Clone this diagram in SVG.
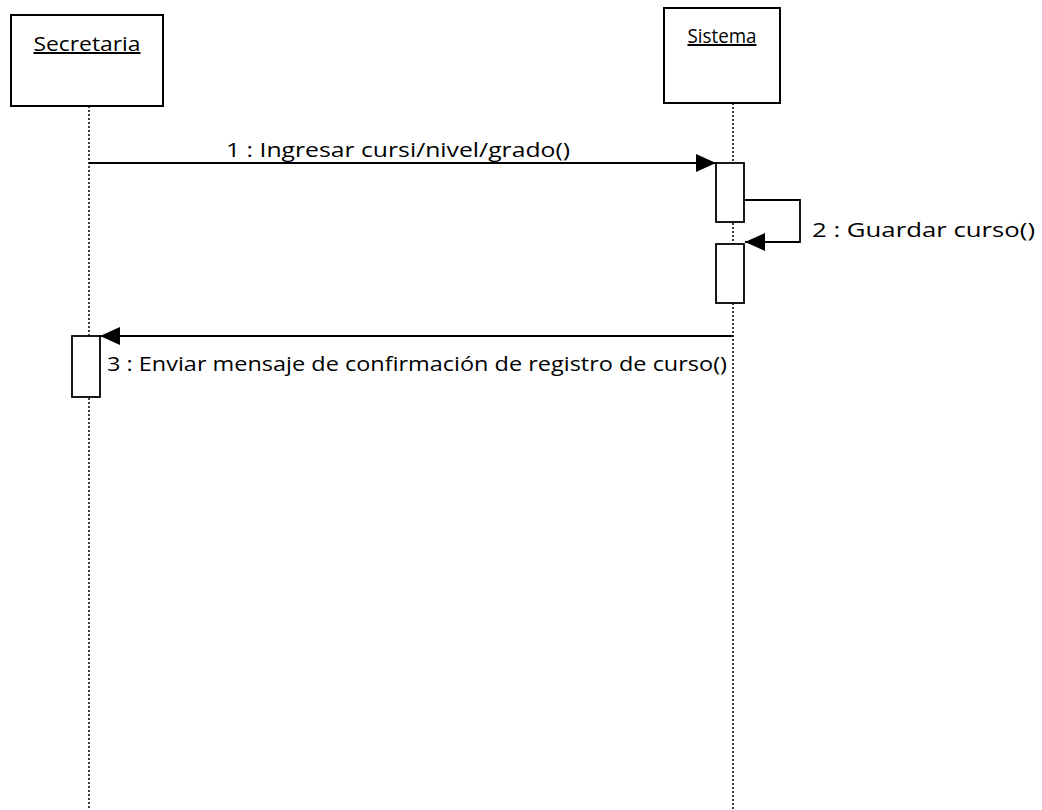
<svg xmlns="http://www.w3.org/2000/svg" width="1042" height="810" viewBox="0 0 1042 810">
<style>
.box{fill:#fff;stroke:#000;stroke-width:2}
.life{stroke:#000;stroke-width:1.5;stroke-dasharray:2 2;fill:none}
.act{fill:#fff;stroke:#000;stroke-width:1.8}
.msg{stroke:#000;stroke-width:1.8;fill:none}
text{font-family:"Open Sans","DejaVu Sans",sans-serif;font-size:20px;fill:#000}
.u{text-decoration:underline}
</style>
<defs>
<marker id="ah" markerWidth="20" markerHeight="18" refX="20" refY="9" orient="auto" markerUnits="userSpaceOnUse">
<path d="M0,0 L20,9 L0,18 Z" fill="#000"/>
</marker>
</defs>
<rect width="1042" height="810" fill="#fff"/>
<g id="lifelines">
<line class="life" x1="89" y1="106" x2="89" y2="810"/>
<line class="life" x1="733" y1="103" x2="733" y2="810"/>
</g>
<g id="secretaria">
<rect class="box" x="11" y="15" width="152" height="91"/>
<text class="u" x="87" y="51" text-anchor="middle" textLength="107" lengthAdjust="spacingAndGlyphs">Secretaria</text>
</g>
<g id="sistema">
<rect class="box" x="664" y="8" width="116" height="95"/>
<text class="u" x="722" y="43" text-anchor="middle" textLength="69" lengthAdjust="spacingAndGlyphs">Sistema</text>
</g>
<g id="activations">
<rect class="act" x="716" y="163" width="28" height="59"/>
<rect class="act" x="716" y="244" width="28" height="59"/>
<rect class="act" x="72" y="336" width="28" height="61"/>
</g>
<g id="connectors">
<line class="msg" x1="89" y1="163" x2="716" y2="163" marker-end="url(#ah)"/>
<polyline class="msg" points="744,200 800,200 800,242 745,242" marker-end="url(#ah)"/>
<line class="msg" x1="733" y1="336" x2="100" y2="336" marker-end="url(#ah)"/>
</g>
<g id="labels">
<text x="226" y="157" textLength="344" lengthAdjust="spacingAndGlyphs">1 : Ingresar cursi/nivel/grado()</text>
<text x="812" y="237" textLength="223" lengthAdjust="spacingAndGlyphs">2 : Guardar curso()</text>
<text x="107" y="371" textLength="620" lengthAdjust="spacingAndGlyphs">3 : Enviar mensaje de confirmación de registro de curso()</text>
</g>
</svg>
